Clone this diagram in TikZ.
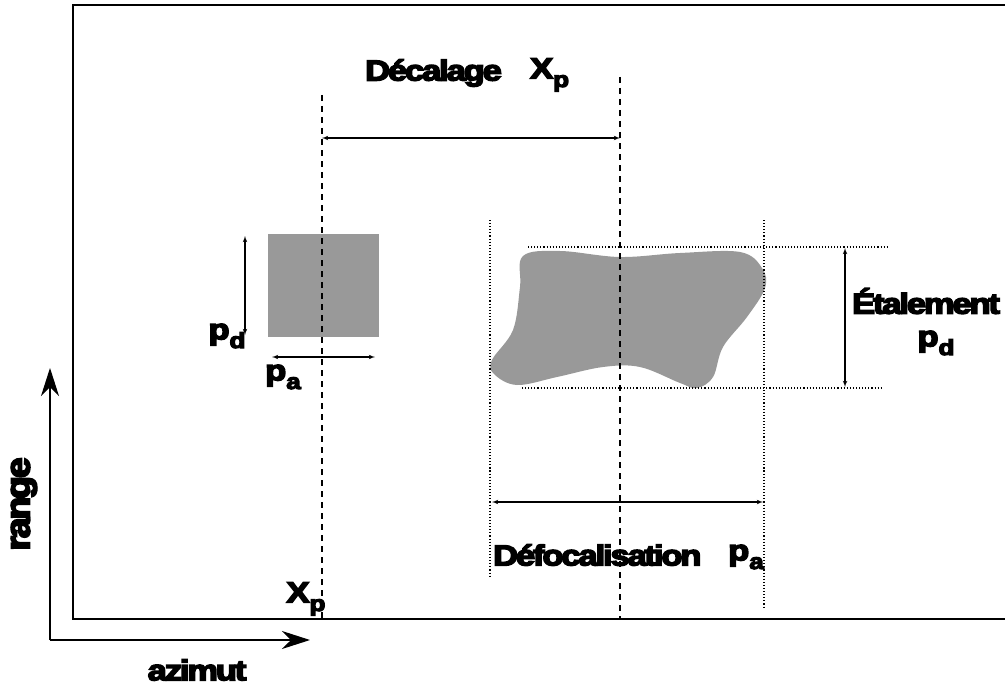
\documentclass[tikz,border=0pt]{standalone}
\usepackage{fontspec}
\setmainfont{Liberation Sans}[FakeBold=5, LetterSpace=-6]
\usepackage{tikz}
\usetikzlibrary{arrows,arrows.meta,positioning,calc}
\definecolor{blobgray}{rgb}{0.6,0.6,0.6}
\newcommand{\lowidx}[1]{\raisebox{-0.3em}{\fontsize{22}{23}\selectfont #1}}
\tikzset{
  lbl/.style={font=\bfseries\fontsize{29}{30}\selectfont, inner sep=0pt, xscale=1.19},
  dim/.style={<->, >=latex', line width=1.1bp},
  axe/.style={-{Stealth[length=28bp,width=18bp,inset=9bp]}, line width=1.2bp},
  guide/.style={dashed, dash pattern=on 6bp off 5bp, line width=1.1bp},
  trace/.style={dotted, line width=1.1bp},
}
\begin{document}
\begin{tikzpicture}[x=1bp,y=-1bp]
  \useasboundingbox (0,0) rectangle (1005,687);
%%
  % Frame
  \coordinate (frameTR) at (1010,5);
  \coordinate (frameTL) at (73,5);
  \coordinate (frameBL) at (73,619);
  \coordinate (frameBR) at (1010,619);
  \draw [line width=1.5bp] (frameTR) -- (frameTL) -- (frameBL) -- (frameBR);
  % Axes
  \coordinate (origin) at (50,640);
  \coordinate (rangeEnd) at (50,368);
  \coordinate (azimEnd) at (310,640);
  \draw [axe] (origin) -- (rangeEnd);
  \draw [axe] (origin) -- (azimEnd);
  \node [lbl, rotate=90, xscale=1.3] (range) at (24,504) {range};
  \node [lbl] (azimut) at (197,670) {azimut};
  % Node: target
  \node [fill=blobgray, minimum width=111bp, minimum height=103bp, inner sep=0pt] (target) at (323.5,285.5) {};
  % Node: blob
  \fill [blobgray] plot [smooth cycle, tension=0.6] coordinates {
    (523,256) (560,251) (620,257) (680,253) (740,252) (762,268) (765,288)
    (747,317) (723,347) (713,377) (697,388) (680,383) (640,367) (603,367)
    (557,377) (517,385) (494,374) (492,360) (513,330) (520,287)};
  % Guides
  \coordinate (xpTop) at (322,95);
  \coordinate (xpBot) at (322,619);
  \coordinate (shTop) at (620,77);
  \coordinate (shBot) at (620,619);
  \draw [guide] (xpTop) -- (xpBot);
  \draw [guide] (shTop) -- (shBot);
  % Dotted box round the blob
  \coordinate (leftTop) at (490,220);
  \coordinate (leftBot) at (490,578);
  \coordinate (rightTop) at (764,220);
  \coordinate (rightBot) at (764,608);
  \coordinate (topL) at (528,247);
  \coordinate (topR) at (888,247);
  \coordinate (botL) at (522,388);
  \coordinate (botR) at (882,388);
  \draw [trace] (leftTop) -- (leftBot);
  \draw [trace] (rightTop) -- (rightBot);
  \draw [trace] (topL) -- (topR);
  \draw [trace] (botL) -- (botR);
  % Edge: shift
  \coordinate (shA) at (322,138);
  \coordinate (shB) at (620,138);
  \draw [dim] (shA) -- (shB);
  \node [lbl, anchor=west] (decalage) at (365,73) {Décalage};
  \node [lbl, anchor=west] (decXp) at (530,75) {X\lowidx{p}};
  % Edge: target size
  \coordinate (pdA) at (245,236);
  \coordinate (pdB) at (245,335);
  \draw [dim] (pdA) -- (pdB);
  \node [lbl] (pdSmall) at (227,336) {p\lowidx{d}};
  \coordinate (paA) at (272,357);
  \coordinate (paB) at (375,357);
  \draw [dim] (paA) -- (paB);
  \node [lbl] (paSmall) at (283,377) {p\lowidx{a}};
  % Edge: spreading
  \coordinate (etA) at (845,248);
  \coordinate (etB) at (845,387);
  \draw [dim] (etA) -- (etB);
  \node [lbl] (etalement) at (926,301) {Étalement};
  \node [lbl] (pdBig) at (936,343) {p\lowidx{d}};
  % Edge: defocus
  \coordinate (dfA) at (492,502);
  \coordinate (dfB) at (763,502);
  \draw [dim] (dfA) -- (dfB);
  \node [lbl, anchor=west] (defoc) at (493,555) {Défocalisation};
  \node [lbl, anchor=west] (defPa) at (728,557) {p\lowidx{a}};
  % Node: Xp
  \node [lbl] (xp) at (306,599) {X\lowidx{p}};
%
\end{tikzpicture}
\end{document}
